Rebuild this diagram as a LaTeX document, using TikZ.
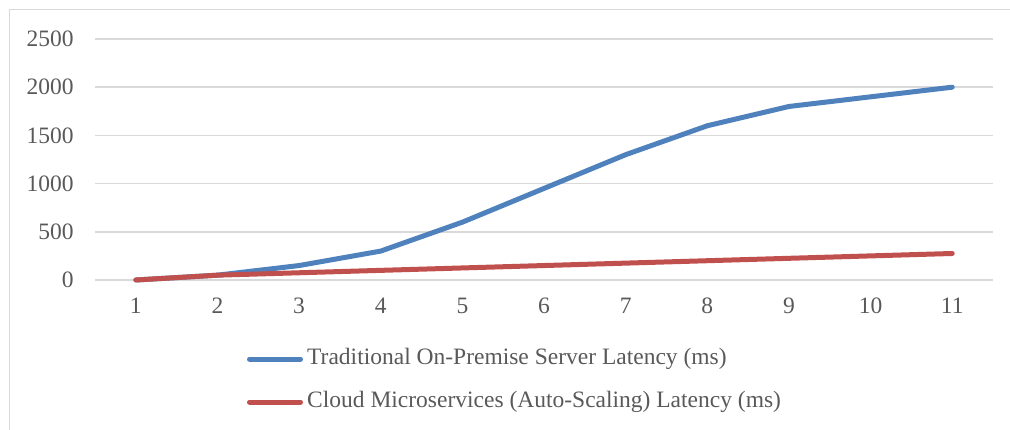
\documentclass[tikz,border=0pt]{standalone}
\usepackage{fontspec}
\setmainfont{Liberation Serif}
\usetikzlibrary{positioning}
\definecolor{gridgray}{HTML}{D9D9D9}
\definecolor{labelgray}{HTML}{595959}
\definecolor{seriesblue}{HTML}{4F81BD}
\definecolor{seriesred}{HTML}{C0504D}
\tikzset{
  gridline/.style={gridgray, line width=1.5pt},
  ticklabel/.style={text=labelgray, inner sep=0pt, font=\fontsize{23.5}{26}\selectfont},
  series/.style={line width=5pt, line cap=round, line join=round}
}

\begin{document}
\begin{tikzpicture}[x=1pt,y=1pt]
\useasboundingbox (0,0) rectangle (1010,429);
% outer frame (runs off the right and bottom edges)
\draw[gridgray, line width=1.5pt] (9.5,-10) -- (9.5,419.5) -- (1020,419.5);
\begin{scope}[shift={(54.2,149)}, x=81.64pt, y=0.0964pt]
\draw[gridline] (0.5,0) -- (11.5,0);
\draw[gridline] (0.5,500) -- (11.5,500);
\draw[gridline] (0.5,1000) -- (11.5,1000);
\draw[gridline] (0.5,1500) -- (11.5,1500);
\draw[gridline] (0.5,2000) -- (11.5,2000);
\draw[gridline] (0.5,2500) -- (11.5,2500);
% value axis
\node[ticklabel, anchor=east] (ylab0) at (0.24,0) {0};
\node[ticklabel, anchor=east] (ylab500) at (0.24,500) {500};
\node[ticklabel, anchor=east] (ylab1000) at (0.24,1000) {1000};
\node[ticklabel, anchor=east] (ylab1500) at (0.24,1500) {1500};
\node[ticklabel, anchor=east] (ylab2000) at (0.24,2000) {2000};
\node[ticklabel, anchor=east] (ylab2500) at (0.24,2500) {2500};
% category axis
\node[ticklabel] (xlab1) at (1,-270) {1};
\node[ticklabel] (xlab2) at (2,-270) {2};
\node[ticklabel] (xlab3) at (3,-270) {3};
\node[ticklabel] (xlab4) at (4,-270) {4};
\node[ticklabel] (xlab5) at (5,-270) {5};
\node[ticklabel] (xlab6) at (6,-270) {6};
\node[ticklabel] (xlab7) at (7,-270) {7};
\node[ticklabel] (xlab8) at (8,-270) {8};
\node[ticklabel] (xlab9) at (9,-270) {9};
\node[ticklabel] (xlab10) at (10,-270) {10};
\node[ticklabel] (xlab11) at (11,-270) {11};
% data
\draw[series, seriesblue] (1,0) -- (2,50) -- (3,150) -- (4,300) -- (5,600) -- (6,950)
  -- (7,1300) -- (8,1600) -- (9,1800) -- (10,1900) -- (11,2000);
\draw[series, seriesred] (1,0) -- (2,50) -- (3,75) -- (4,100) -- (5,125) -- (6,150)
  -- (7,175) -- (8,200) -- (9,225) -- (10,250) -- (11,275);
\end{scope}
% legend
\node[ticklabel, anchor=west] (legblue) at (307,70) {Traditional On-Premise Server Latency (ms)};
\node[ticklabel, anchor=west] (legred) at (307,27) {Cloud Microservices (Auto-Scaling) Latency (ms)};
\coordinate[left=57.5pt of legblue.west] (legbluestart);
\coordinate[left=57.5pt of legred.west] (legredstart);
\draw[series, seriesblue] (legbluestart) -- ([xshift=-6.5pt]legblue.west);
\draw[series, seriesred] (legredstart) -- ([xshift=-6.5pt]legred.west);
\end{tikzpicture}
\end{document}
